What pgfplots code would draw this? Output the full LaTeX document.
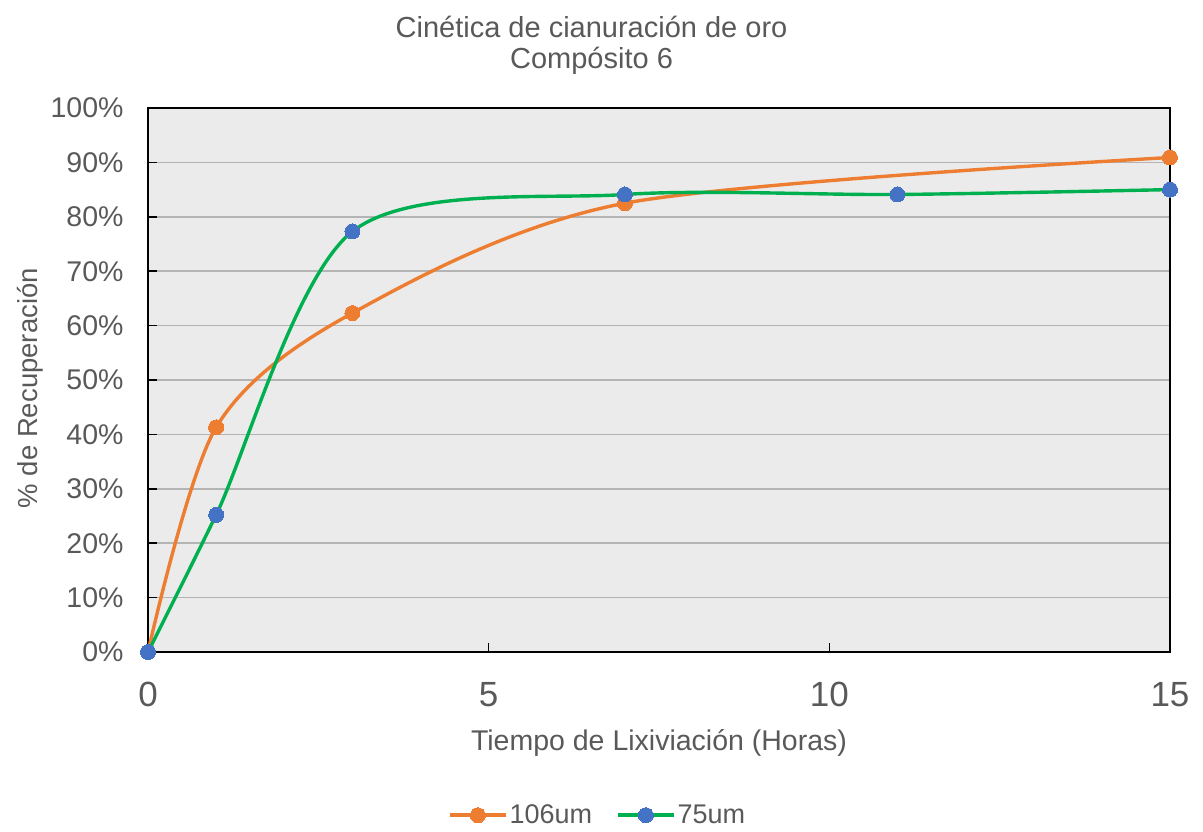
\documentclass[border=0pt]{standalone}
\usepackage{fontspec}
\setmainfont{Liberation Sans}
\usepackage{pgfplots}
\pgfplotsset{compat=1.18}
\definecolor{c106}{HTML}{ED7D31}
\definecolor{c75line}{HTML}{00B050}
\definecolor{c75mark}{HTML}{4472C4}
\definecolor{txt}{HTML}{595959}
\definecolor{bg}{HTML}{EBEBEB}
\definecolor{gridc}{HTML}{B4B4B4}
\begin{document}
\begin{tikzpicture}[x=1pt,y=1pt]
\useasboundingbox (0,0) rectangle (1203,832);
\begin{axis}[
  at={(148pt,180pt)}, anchor=south west,
  scale only axis, width=1022pt, height=544pt,
  xmin=0, xmax=15, ymin=0, ymax=100,
  xtick={0,5,10,15}, xticklabels={0,5,10,15},
  ytick={0,10,...,100},
  yticklabels={0\%,10\%,20\%,30\%,40\%,50\%,60\%,70\%,80\%,90\%,100\%},
  tick pos=left, tick align=inside,
  major tick length=9pt,
  tick style={black, line width=1.5pt},
  axis line style={black, line width=1.8pt},
  axis background/.style={fill=bg},
  ymajorgrids, grid style={gridc, line width=1.5pt},
  yticklabel style={font=\fontsize{28.5}{31}\selectfont, text=txt, xshift=-21pt},
  xticklabel style={font=\fontsize{35}{38}\selectfont, text=txt, yshift=-27pt},
  xlabel={Tiempo de Lixiviación (Horas)},
  ylabel={\% de Recuperación},
  xlabel style={font=\fontsize{28.5}{32}\selectfont, text=txt, at={(axis description cs:0.5,-0.167)}, anchor=center},
  ylabel style={font=\fontsize{27.5}{32}\selectfont, text=txt, at={(axis description cs:-0.1155,0.485)}, anchor=center},
  title={Cinética de cianuración de oro\\Compósito 6},
  title style={font=\fontsize{29}{31}\selectfont, text=txt, align=center, at={(axis description cs:0.434,1.105)}, anchor=center},
  clip=false,
  legend columns=2,
  legend style={draw=none, fill=none, font=\fontsize{27}{30}\selectfont, text=txt,
    at={(axis description cs:0.44,-0.30)}, anchor=center,
    /tikz/every even column/.append style={column sep=22pt}},
  legend image code/.code={%
    \draw[#1,mark=none] (0pt,0pt) -- (56pt,0pt);
    \draw[#1,draw=none] plot coordinates {(28pt,0pt)};
  },
]
\addplot[c106, line width=3.4pt, smooth, tension=0.5, mark=*, mark size=7.5pt, mark options={fill=c106, draw=c106, line width=0pt}]
  coordinates {(0,0) (1,41.3) (3,62.3) (7,82.5) (15,90.9)};
\addlegendentry{106um}
\addplot[c75line, line width=3.4pt, smooth, tension=0.5, mark=*, mark size=7.5pt, mark options={fill=c75mark, draw=c75mark, line width=0pt}]
  coordinates {(0,0) (1,25.2) (3,77.3) (7,84.1) (11,84.1) (15,85.0)};
\addlegendentry{75um}
\end{axis}
\end{tikzpicture}
\end{document}
